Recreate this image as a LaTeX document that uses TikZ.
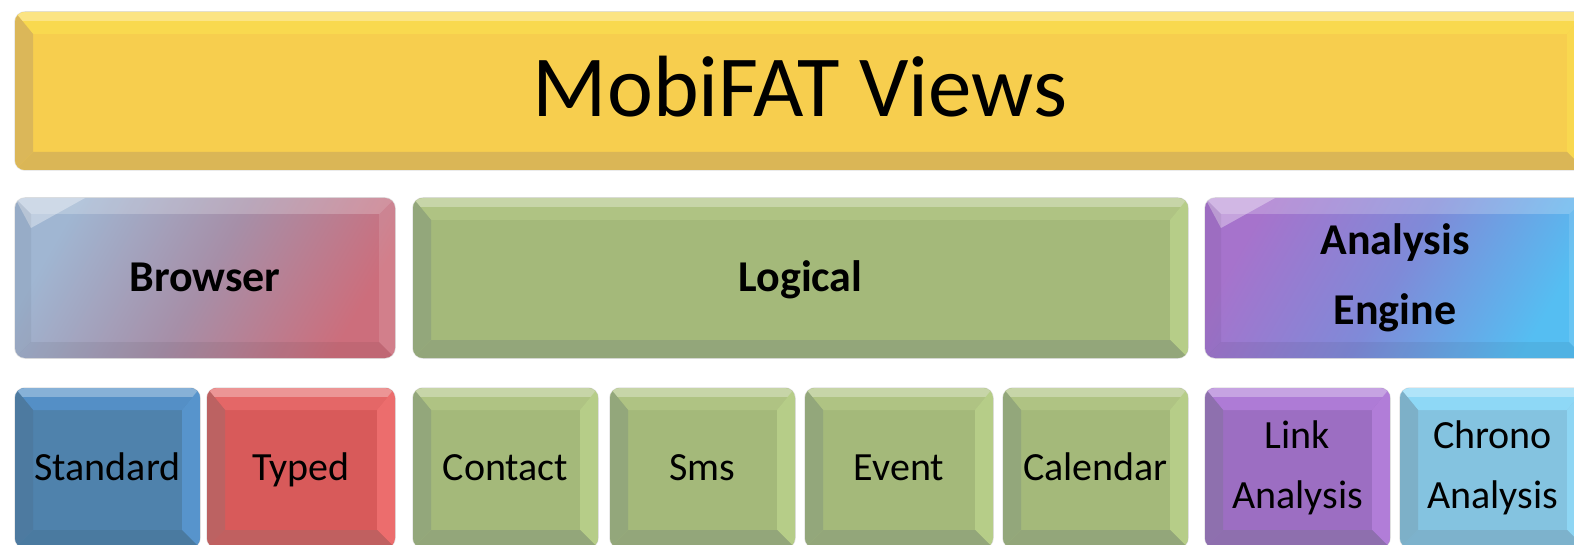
\documentclass[tikz,border=0pt]{standalone}
\usepackage{fontspec}
\setmainfont{Carlito}
\usetikzlibrary{calc}
\definecolor{ttface}{HTML}{F7CE4E}\definecolor{tttop}{HTML}{F9D94F}\definecolor{ttright}{HTML}{F9D84F}\definecolor{ttbottom}{HTML}{DAB656}\definecolor{ttleft}{HTML}{DBB759}
\definecolor{grface}{HTML}{A4B97A}\definecolor{grtop}{HTML}{AFC383}\definecolor{grright}{HTML}{B6CD88}\definecolor{grbottom}{HTML}{93A67A}\definecolor{grleft}{HTML}{93A77B}
\definecolor{blface}{HTML}{4F82AC}\definecolor{bltop}{HTML}{548FC6}\definecolor{blright}{HTML}{5794CC}\definecolor{blbottom}{HTML}{4A7AA0}\definecolor{blleft}{HTML}{4D7AA0}
\definecolor{rdface}{HTML}{D85A5A}\definecolor{rdtop}{HTML}{E46767}\definecolor{rdright}{HTML}{EC6D6D}\definecolor{rdbottom}{HTML}{C06060}\definecolor{rdleft}{HTML}{BC6262}
\definecolor{puface}{HTML}{9C6EC2}\definecolor{putop}{HTML}{AE7BD6}\definecolor{puright}{HTML}{B17DD8}\definecolor{pubottom}{HTML}{8E6FAE}\definecolor{puleft}{HTML}{8E70AE}
\definecolor{cyface}{HTML}{84C3E0}\definecolor{cytop}{HTML}{8ED8F6}\definecolor{cyright}{HTML}{8ED6F4}\definecolor{cybottom}{HTML}{7DB2CC}\definecolor{cyleft}{HTML}{7DB0C8}
\definecolor{brA}{HTML}{A0B6D2}\definecolor{brB}{HTML}{A68FA8}\definecolor{brC}{HTML}{CC6E7C}
\definecolor{anA}{HTML}{A673CC}\definecolor{anB}{HTML}{7F8AD8}\definecolor{anC}{HTML}{55BEF2}
\tikzset{
  titletext/.style={font=\fontsize{87}{100}\selectfont, text=black, yshift=4pt},
  midtext/.style={font=\bfseries\fontsize{44}{70}\selectfont, align=center, text=black},
  lowtext/.style={font=\fontsize{40}{60}\selectfont, align=center, text=black},
  halo/.style={draw=white!80!black, line width=1.5pt, rounded corners=10pt, opacity=0.6}
}
% #1 name, #2 x1, #3 y1, #4 x2, #5 y2, #6 colour prefix, #7 text style, #8 text
\newcommand\bvbox[8]{%
  \draw[halo] (#2,#3) rectangle (#4,#5);
  \begin{scope}
    \clip[rounded corners=10pt] (#2,#3) rectangle (#4,#5);
    \fill[#6face] (#2,#3) rectangle (#4,#5);
    \fill[#6top] (#2,#3) -- (#4,#3) -- ({#4-18},{#3+22}) -- ({#2+18},{#3+22}) -- cycle;
    \fill[#6top!70!white] (#2,#3) rectangle (#4,{#3+9});
    \fill[#6right] (#4,#3) -- (#4,#5) -- ({#4-18},{#5-18}) -- ({#4-18},{#3+22}) -- cycle;
    \fill[#6bottom] (#2,#5) -- (#4,#5) -- ({#4-18},{#5-18}) -- ({#2+18},{#5-18}) -- cycle;
    \fill[#6left] (#2,#3) -- (#2,#5) -- ({#2+18},{#5-18}) -- ({#2+18},{#3+22}) -- cycle;
  \end{scope}
  \node[#7] (#1) at ({(#2+#4)/2},{(#3+#5)/2}) {#8};
}
% glossy box: #1 name, #2 x1, #3 y1, #4 x2, #5 y2, #6 colA, #7 colB, #8 colC, #9 text
\newcommand\glbox[9]{%
  \draw[halo] (#2,#3) rectangle (#4,#5);
  \begin{scope}
    \clip[rounded corners=10pt] (#2,#3) rectangle (#4,#5);
    \shade[left color=#6, right color=#8, middle color=#7, shading angle=60] (#2,#3) rectangle (#4,#5);
    \fill[white, opacity=0.22] (#2,#3) -- (#4,#3) -- ({#4-16},{#3+16}) -- ({#2+16},{#3+16}) -- cycle;
    \fill[white, opacity=0.35] (#2,#3) -- ({#2+70},#3) -- ({#2+16},{#3+30}) -- cycle;
    \fill[black, opacity=0.06] (#2,#5) -- (#4,#5) -- ({#4-16},{#5-16}) -- ({#2+16},{#5-16}) -- cycle;
    \fill[black, opacity=0.05] (#2,#3) -- (#2,#5) -- ({#2+16},{#5-16}) -- ({#2+16},{#3+16}) -- cycle;
    \fill[white, opacity=0.12] (#4,#3) -- (#4,#5) -- ({#4-16},{#5-16}) -- ({#4-16},{#3+16}) -- cycle;
  \end{scope}
  \node[midtext] (#1) at ({(#2+#4)/2},{(#3+#5)/2}) {#9};
}
\begin{document}
\begin{tikzpicture}[x=1pt, y=-1pt]
\useasboundingbox (0,0) rectangle (1574,545);
\clip (0,0) rectangle (1574,545);
\fill[white] (0,0) rectangle (1574,545);
% title
\bvbox{title}{15}{12}{1585}{170}{tt}{titletext}{MobiFAT Views}
% middle row
\glbox{browser}{15}{198}{395}{358}{brA}{brB}{brC}{Browser\strut}
\bvbox{logical}{413}{198}{1188}{358}{gr}{midtext}{Logical\strut}
\glbox{engine}{1205}{198}{1585}{358}{anA}{anB}{anC}{Analysis\\Engine}
% bottom row
\bvbox{standard}{15}{388}{200}{548}{bl}{lowtext}{Standard\strut}
\bvbox{typed}{207}{388}{395}{548}{rd}{lowtext}{Typed\strut}
\bvbox{contact}{413}{388}{598}{548}{gr}{lowtext}{Contact\strut}
\bvbox{sms}{610}{388}{795}{548}{gr}{lowtext}{Sms\strut}
\bvbox{event}{805}{388}{993}{548}{gr}{lowtext}{Event\strut}
\bvbox{calendar}{1003}{388}{1188}{548}{gr}{lowtext}{Calendar\strut}
\bvbox{link}{1205}{388}{1390}{548}{pu}{lowtext}{Link\\Analysis}
\bvbox{chrono}{1400}{388}{1585}{548}{cy}{lowtext}{Chrono\\Analysis}
\end{tikzpicture}
\end{document}
